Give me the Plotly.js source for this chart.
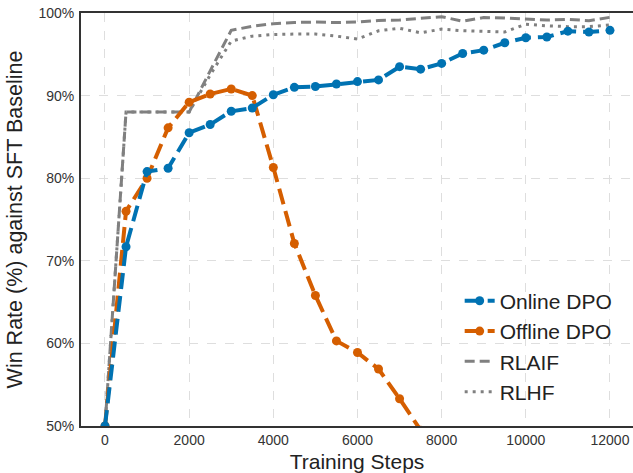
<!DOCTYPE html>
<html>
<head>
<meta charset="utf-8">
<script src="https://cdn.plot.ly/plotly-3.0.1.min.js"></script>
<style>html,body{margin:0;padding:0;background:#fff;}#chart{width:633px;height:473px;}</style>
</head>
<body>
<div id="chart"></div>
<script>
const steps = [0,500,1000,1500,2000,2500,3000,3500,4000,4500,5000,5500,6000,6500,7000,7500,8000,8500,9000,9500,10000,10500,11000,11500,12000];
const onlineDPO = [50,71.7,80.8,81.2,85.5,86.5,88.1,88.5,90.1,91.0,91.1,91.4,91.7,91.9,93.5,93.2,93.9,95.1,95.5,96.4,97.0,97.1,97.8,97.7,97.9];
const offlineSteps = [0,500,1000,1500,2000,2500,3000,3500,4000,4500,5000,5500,6000,6500,7000,7500];
const offlineDPO = [50,76.0,80.0,86.1,89.2,90.2,90.8,90.0,81.3,72.1,65.8,60.3,58.9,56.9,53.3,49.5];
const rlaif = [50,88,88,88,88,93,97.9,98.4,98.7,98.85,98.9,98.85,98.9,99.1,99.15,99.35,99.55,99.0,99.45,99.4,99.27,99.15,99.24,99.07,99.48];
const rlhf = [50,88,88,88,88,92.5,96.6,97.2,97.4,97.45,97.45,97.2,96.85,97.85,98.15,97.6,98.05,97.85,97.8,97.7,98.65,98.45,98.35,98.35,98.55];
const xTicks = [0,2000,4000,6000,8000,10000,12000];
const yTicks = [50,60,70,80,90,100];

const traces = [
  {x: steps, y: rlaif, name: 'RLAIF', mode: 'lines', legendrank: 3, legendgroup: 'c',
   line: {color: '#808080', width: 3, dash: '10px,5px'}},
  {x: steps, y: rlhf, name: 'RLHF', mode: 'lines', legendrank: 4, legendgroup: 'd',
   line: {color: '#808080', width: 3, dash: '3px,5px'}},
  {x: offlineSteps, y: offlineDPO, name: 'Offline DPO', mode: 'lines+markers', legendrank: 2, legendgroup: 'b',
   line: {color: '#D55E00', width: 4, dash: '16px,7px'}, marker: {color: '#D55E00', size: 9}},
  {x: steps, y: onlineDPO, name: 'Online DPO', mode: 'lines+markers', legendrank: 1, legendgroup: 'a',
   line: {color: '#0072B2', width: 4, dash: '16px,7px'}, marker: {color: '#0072B2', size: 9}}
];

const layout = {
  width: 633, height: 473,
  margin: {l: 81, r: 0, t: 13, b: 47},
  paper_bgcolor: '#fff', plot_bgcolor: '#fff',
  font: {family: 'Liberation Sans, Arial, sans-serif', color: '#333'},
  showlegend: true,
  legend: {x: 0.686, y: 0.352, xanchor: 'left', yanchor: 'top', bgcolor: 'rgba(0,0,0,0)',
           font: {size: 21, color: '#222'}, tracegroupgap: 6, traceorder: 'normal'},
  xaxis: {
    range: [-570, 12547], tickvals: xTicks, ticktext: xTicks.map(String),
    showline: true, linecolor: '#333', linewidth: 2, mirror: true,
    showgrid: true, gridcolor: '#dedede', griddash: 'dash', gridwidth: 1,
    zeroline: false, ticks: '', 
    tickfont: {size: 14, color: '#333'},
    title: {text: 'Training Steps', font: {size: 21, color: '#222'}, standoff: 8}
  },
  yaxis: {
    range: [50, 100], tickvals: yTicks, ticktext: yTicks.map(v => v + '%'),
    showline: true, linecolor: '#333', linewidth: 2,
    showgrid: true, gridcolor: '#dedede', griddash: 'dash', gridwidth: 1,
    zeroline: false, ticks: 'outside', ticklen: 2, tickcolor: 'rgba(0,0,0,0)',
    tickfont: {size: 14, color: '#333'},
    title: {text: 'Win Rate (%) against SFT Baseline', font: {size: 21.5, color: '#222'}, standoff: 10}
  }
};

Plotly.newPlot('chart', traces, layout, {displayModeBar: false, staticPlot: true});
</script>
</body>
</html>
